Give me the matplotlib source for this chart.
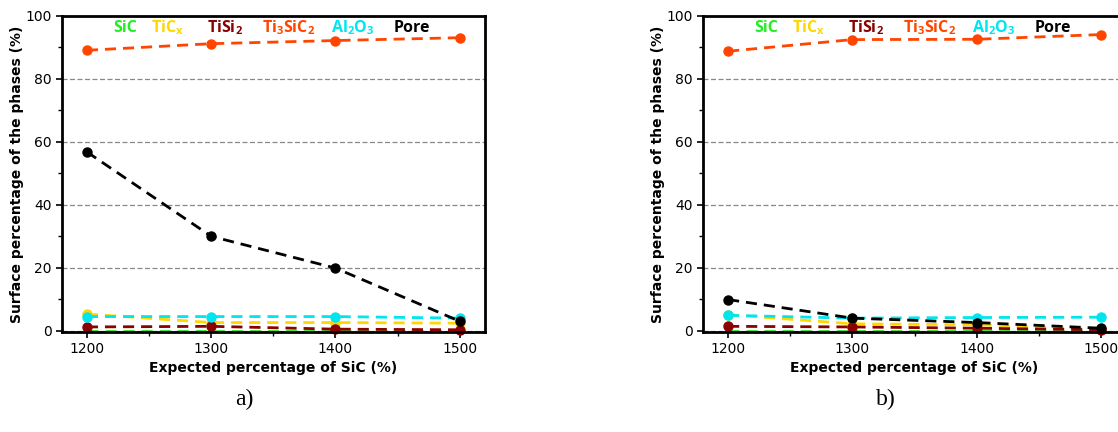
import matplotlib
matplotlib.use("Agg")
import matplotlib.pyplot as plt
from matplotlib.ticker import MultipleLocator

temps = [1200, 1300, 1400, 1500]
phases = ["SiC", "TiCx", "TiSi2", "Ti3SiC2", "Al2O3", "Pore"]
phase_labels = ["SiC", r"TiC$_\mathregular{x}$", r"TiSi$_\mathregular{2}$",
                r"Ti$_\mathregular{3}$SiC$_\mathregular{2}$",
                r"Al$_\mathregular{2}$O$_\mathregular{3}$", "Pore"]
colors = ["#22ee22", "#ffd700", "#8b0000", "#ff4500", "#00e5ee", "#000000"]

# panel a)
a_SiC = [0.0, 0.0, 0.0, 0.0]
a_TiCx = [5.3, 2.6, 2.6, 2.4]
a_TiSi2 = [1.2, 1.4, 0.5, 0.3]
a_Ti3SiC2 = [89.1, 91.2, 92.2, 93.1]
a_Al2O3 = [4.5, 4.5, 4.5, 4.0]
a_Pore = [56.8, 30.0, 19.9, 3.0]

# panel b)
b_SiC = [0.0, 0.0, 0.0, 0.0]
b_TiCx = [5.1, 2.2, 1.9, 0.5]
b_TiSi2 = [1.4, 1.2, 0.8, 0.3]
b_Ti3SiC2 = [88.8, 92.5, 92.6, 94.1]
b_Al2O3 = [4.9, 4.0, 4.2, 4.3]
b_Pore = [9.9, 4.0, 2.6, 0.8]

panels = [
    ("a)", [a_SiC, a_TiCx, a_TiSi2, a_Ti3SiC2, a_Al2O3, a_Pore]),
    ("b)", [b_SiC, b_TiCx, b_TiSi2, b_Ti3SiC2, b_Al2O3, b_Pore]),
]

label_x = [1230.7, 1264.5, 1311, 1362, 1414, 1461.6]

fig = plt.figure(figsize=(11.18, 4.32), dpi=100)
lefts = [0.0555, 0.629]
for (cap, series), left in zip(panels, lefts):
    ax = fig.add_axes([left, 0.2315, 0.378, 0.7315])
    ax.set_xlim(1180, 1520)
    ax.set_ylim(-0.4, 100)
    for y in [0, 20, 40, 60, 80]:
        ax.axhline(y, color="#888888", lw=0.9, ls=(0, (4, 2)), zorder=0.5)
    # SiC drawn underneath everything (at zero, hidden by axis)
    ax.plot(temps, series[0], color=colors[0], lw=2, ls=(0, (4, 2.5)),
            marker="o", ms=4, zorder=0.2)
    order = [2, 1, 4, 5, 3]
    for i in order:
        ax.plot(temps, series[i], color=colors[i], lw=2, ls=(0, (4, 2.5)),
                marker="o", ms=6.5, zorder=2 + i * 0.1, clip_on=False)
    for i, lab in enumerate(phase_labels):
        ax.text(label_x[i], 96.3, lab, color=colors[i], fontsize=11.5,
                fontweight="bold", ha="center", va="center", family="Open Sans")
    ax.xaxis.set_major_locator(MultipleLocator(100))
    ax.xaxis.set_minor_locator(MultipleLocator(50))
    ax.yaxis.set_major_locator(MultipleLocator(20))
    ax.yaxis.set_minor_locator(MultipleLocator(10))
    ax.tick_params(which="major", direction="out", length=4, width=1.2, labelsize=10)
    ax.tick_params(which="minor", direction="out", length=3, width=1)
    for s in ax.spines.values():
        s.set_linewidth(2)
        s.set_zorder(3)
    ax.set_xlabel("Expected percentage of SiC (%)", fontsize=10, fontweight="bold",
                  labelpad=3)
    ax.set_ylabel("Surface percentage of the phases (%)", fontsize=10,
                  fontweight="bold", labelpad=1)
    fig.text(left + 0.163, 0.075, cap, fontsize=17, family="Liberation Serif",
             ha="center", va="center")

fig.savefig("out.png", dpi=100)
